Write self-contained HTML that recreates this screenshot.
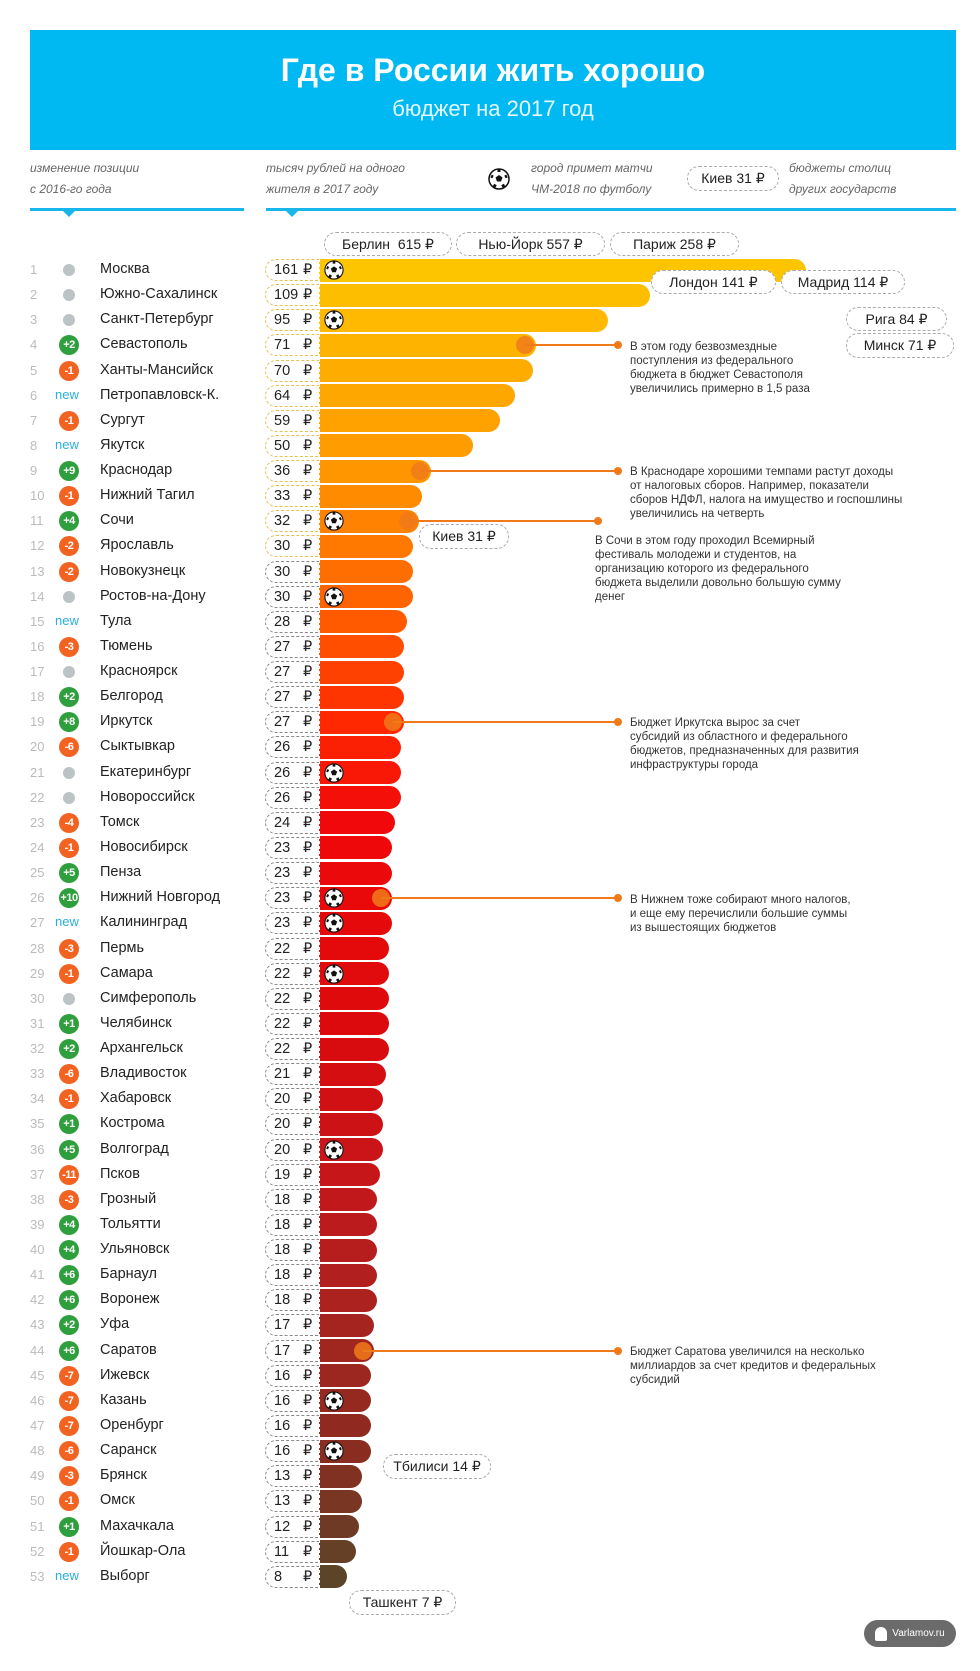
<!DOCTYPE html>
<html><head><meta charset="utf-8">
<style>
body{margin:0;background:#fff;}
#page{position:relative;width:980px;height:1671px;overflow:hidden;background:#fff;font-family:"Liberation Sans",sans-serif;color:#222;}
.abs{position:absolute;}
.pill{position:absolute;border:1px dashed #aaa;border-radius:12px;font-size:14px;display:flex;align-items:center;justify-content:center;background:#fff;color:#222;box-sizing:border-box;white-space:nowrap;}
.hdr{position:absolute;font-size:12px;font-style:italic;color:#666;line-height:21px;}
.note{position:absolute;font-size:11.5px;line-height:14px;color:#333;}
.rank{position:absolute;font-size:13px;color:#bbb;}
.city{position:absolute;font-size:14.5px;color:#222;}
.badge{position:absolute;width:20px;height:20px;border-radius:50%;color:#fff;font-size:11px;font-weight:bold;display:flex;align-items:center;justify-content:center;letter-spacing:-0.5px;}
.vbox{position:absolute;height:22px;border:1px dashed #ccc;border-right:none;border-radius:11px 0 0 11px;box-sizing:border-box;font-size:14.5px;}
.bar{position:absolute;height:23px;border-radius:0 12px 12px 0;}
.line{position:absolute;height:2px;}
.dot{position:absolute;width:8px;height:8px;border-radius:50%;}
.bigdot{position:absolute;width:18px;height:18px;border-radius:50%;opacity:0.85;}
</style></head>
<body>
<div id="page">
  <div class="abs" style="left:30px;top:30px;width:926px;height:120px;background:#00b9f2;"></div>
  <div class="abs" style="left:30px;top:52px;width:926px;text-align:center;color:#fff;font-size:32px;font-weight:bold;">Где в России жить хорошо</div>
  <div class="abs" style="left:30px;top:96px;width:926px;text-align:center;color:#e6f8ff;font-size:22px;">бюджет на 2017 год</div>

  <div class="hdr" style="left:30px;top:158px;">изменение позиции<br>с 2016-го года</div>
  <div class="hdr" style="left:266px;top:158px;">тысяч рублей на одного<br>жителя в 2017 году</div>
  <svg class="abs" style="left:488px;top:168px" width="22" height="22" viewBox="0 0 22 22"><circle cx="11" cy="11" r="10" fill="#fff" stroke="#111" stroke-width="1.5"/><polygon points="11,7 14.5,9.5 13,13.5 9,13.5 7.5,9.5" fill="#111"/><path d="M11 1.5 L11 4 M3 8 L5 9 M19 8 L17 9 M6 19 L7.5 16.5 M16 19 L14.5 16.5" stroke="#111" stroke-width="3"/></svg>
  <div class="hdr" style="left:531px;top:158px;">город примет матчи<br>ЧМ-2018 по футболу</div>
  <div class="pill" style="left:687px;top:166px;width:92px;height:25px;">Киев 31 ₽</div>
  <div class="hdr" style="left:789px;top:158px;">бюджеты столиц<br>других государств</div>
  <div class="abs" style="left:30px;top:208px;width:214px;height:3px;background:#19b6ec;"></div>
  <div class="abs" style="left:266px;top:208px;width:690px;height:3px;background:#19b6ec;"></div>
  <div class="abs" style="left:63px;top:211px;width:0;height:0;border-left:6px solid transparent;border-right:6px solid transparent;border-top:6px solid #19b6ec;"></div>
  <div class="abs" style="left:286px;top:211px;width:0;height:0;border-left:6px solid transparent;border-right:6px solid transparent;border-top:6px solid #19b6ec;"></div>

  <div class="pill" style="left:324px;top:232px;width:128px;height:24px;">Берлин &nbsp;615 ₽</div>
  <div class="pill" style="left:456px;top:232px;width:149px;height:24px;">Нью-Йорк 557 ₽</div>
  <div class="pill" style="left:610px;top:232px;width:129px;height:24px;">Париж 258 ₽</div>

  <div id="rows"></div>

  <div class="pill" style="left:651px;top:270px;width:125px;height:24px;">Лондон 141 ₽</div>
  <div class="pill" style="left:781px;top:270px;width:124px;height:24px;">Мадрид 114 ₽</div>
  <div class="pill" style="left:846px;top:307px;width:101px;height:24px;">Рига 84 ₽</div>
  <div class="pill" style="left:846px;top:333px;width:108px;height:25px;">Минск 71 ₽</div>
  <div class="pill" style="left:419px;top:524px;width:90px;height:25px;">Киев 31 ₽</div>
  <div class="pill" style="left:383px;top:1454px;width:108px;height:25px;">Тбилиси 14 ₽</div>
  <div class="pill" style="left:349px;top:1590px;width:107px;height:25px;">Ташкент 7 ₽</div>

  <div class="note" style="left:630px;top:340px;">В этом году безвозмездные<br>поступления из федерального<br>бюджета в бюджет Севастополя<br>увеличились примерно в 1,5 раза</div>
  <div class="note" style="left:630px;top:465px;">В Краснодаре хорошими темпами растут доходы<br>от налоговых сборов. Например, показатели<br>сборов НДФЛ, налога на имущество и госпошлины<br>увеличились на четверть</div>
  <div class="note" style="left:595px;top:534px;">В Сочи в этом году проходил Всемирный<br>фестиваль молодежи и студентов, на<br>организацию которого из федерального<br>бюджета выделили довольно большую сумму<br>денег</div>
  <div class="note" style="left:630px;top:716px;">Бюджет Иркутска вырос за счет<br>субсидий из областного и федерального<br>бюджетов, предназначенных для развития<br>инфраструктуры города</div>
  <div class="note" style="left:630px;top:893px;">В Нижнем тоже собирают много налогов,<br>и еще ему перечислили большие суммы<br>из вышестоящих бюджетов</div>
  <div class="note" style="left:630px;top:1345px;">Бюджет Саратова увеличился на несколько<br>миллиардов за счет кредитов и федеральных<br>субсидий</div>

  <div class="abs" style="left:864px;top:1620px;width:92px;height:27px;border-radius:14px;background:#6b6b6b;color:#fff;font-size:10px;display:flex;align-items:center;justify-content:center;"><span style="display:inline-block;width:12px;height:14px;border-radius:6px 6px 2px 2px;background:#fff;margin-right:5px;"></span>Varlamov.ru</div>
</div>
<script>
const cities=["Москва","Южно-Сахалинск","Санкт-Петербург","Севастополь","Ханты-Мансийск","Петропавловск-К.","Сургут","Якутск","Краснодар","Нижний Тагил","Сочи","Ярославль","Новокузнецк","Ростов-на-Дону","Тула","Тюмень","Красноярск","Белгород","Иркутск","Сыктывкар","Екатеринбург","Новороссийск","Томск","Новосибирск","Пенза","Нижний Новгород","Калининград","Пермь","Самара","Симферополь","Челябинск","Архангельск","Владивосток","Хабаровск","Кострома","Волгоград","Псков","Грозный","Тольятти","Ульяновск","Барнаул","Воронеж","Уфа","Саратов","Ижевск","Казань","Оренбург","Саранск","Брянск","Омск","Махачкала","Йошкар-Ола","Выборг"];
const values=[161,109,95,71,70,64,59,50,36,33,32,30,30,30,28,27,27,27,27,26,26,26,24,23,23,23,23,22,22,22,22,22,21,20,20,20,19,18,18,18,18,18,17,17,16,16,16,16,13,13,12,11,8];
const changes=["0","0","0","+2","-1","new","-1","new","+9","-1","+4","-2","-2","0","new","-3","0","+2","+8","-6","0","0","-4","-1","+5","+10","new","-3","-1","0","+1","+2","-6","-1","+1","+5","-11","-3","+4","+4","+6","+6","+2","+6","-7","-7","-7","-6","-3","-1","+1","-1","new"];
const worldCup=[1,0,1,0,0,0,0,0,0,0,1,0,0,1,0,0,0,0,0,0,1,0,0,0,0,1,1,0,1,0,0,0,0,0,0,1,0,0,0,0,0,0,0,0,0,1,0,1,0,0,0,0,0];
const notedRows=[3,8,10,18,25,43];

const Y0=270, PITCH=25.13, X0=319, K=3.0;
const LEADER='#f07a1a';
function yRow(i){return Y0+i*PITCH;}
function xVal(v){return X0+v*K+3;}
const stops=[[0,[253,196,0]],[8,[255,150,0]],[14,[255,90,0]],[18,[255,40,0]],[22,[240,8,10]],[30,[220,10,12]],[36,[198,22,26]],[42,[166,36,32]],[47,[138,44,32]],[52,[92,68,40]]];
function col(i){for(let s=0;s<stops.length-1;s++){const a=stops[s],b=stops[s+1];if(i<=b[0]){const t=(i-a[0])/(b[0]-a[0]);return 'rgb('+a[1].map((c,k)=>Math.round(c+(b[1][k]-c)*t)).join(',')+')';}}return 'rgb(92,68,40)';}
const ball='<svg width="20" height="20" viewBox="0 0 22 22"><circle cx="11" cy="11" r="10" fill="#fff" stroke="#111" stroke-width="1.2"/><polygon points="11,7 14.5,9.5 13,13.5 9,13.5 7.5,9.5" fill="#111"/><path d="M11 1.5 L11 4 M3 8 L5 9 M19 8 L17 9 M6 19 L7.5 16.5 M16 19 L14.5 16.5" stroke="#111" stroke-width="3"/></svg>';
const root=document.getElementById('rows');
function mk(cls,st,html){const d=document.createElement('div');d.className=cls;d.style.cssText=st;if(html!==undefined)d.innerHTML=html;root.appendChild(d);return d;}
cities.forEach((c,i)=>{
  const y=yRow(i), color=col(i), xe=xVal(values[i]);
  let e=mk('rank','left:30px;top:'+(y-8)+'px;',String(i+1));
  
  
  const ch=changes[i];
  if(ch==='0'){e=mk('abs','left:63px;top:'+(y-6)+'px;width:12px;height:12px;border-radius:50%;background:#bcc3c5;');}
  else if(ch==='new'){e=mk('abs','left:55px;top:'+(y-9)+'px;font-size:13px;color:#29aee0;','new');}
  else{e=mk('badge','left:59px;top:'+(y-10)+'px;background:'+(ch[0]==='+'?'#2f9e3c':'#f26322')+';',ch);}
  
  
  e=mk('city','left:100px;top:'+(y-9)+'px;',c);
  
  
  e=mk('vbox','left:265px;top:'+(y-11)+'px;width:54px;border-color:'+(i<12?'#e8c050':'#888')+';','<span style="position:absolute;left:8px;top:2px;">'+values[i]+'</span><span style="position:absolute;left:37px;top:2px;">₽</span>');
  
  
  e=mk('bar','left:'+X0+'px;top:'+(y-11.5)+'px;width:'+(xe-X0)+'px;background:'+color+';border-left:1px dashed #fff;');
  
  
  if(worldCup[i]){e=mk('abs','left:324px;top:'+(y-10)+'px;width:20px;height:20px;',ball);
    
    }
});
notedRows.forEach(i=>{
  const y=yRow(i), xe=xVal(values[i]), color=col(i);
  const xEnd = i===10 ? 598 : 618;
  let e=mk('bigdot','left:'+(xe-19)+'px;top:'+(y-9)+'px;background:'+LEADER+';');
  
  
  e=mk('line','left:'+(xe-10)+'px;top:'+(y-1)+'px;width:'+(xEnd-xe+10)+'px;background:'+LEADER+';');
  
  
  e=mk('dot','left:'+(xEnd-4)+'px;top:'+(y-4)+'px;background:'+LEADER+';');
  
  
});
</script>
</body></html>
